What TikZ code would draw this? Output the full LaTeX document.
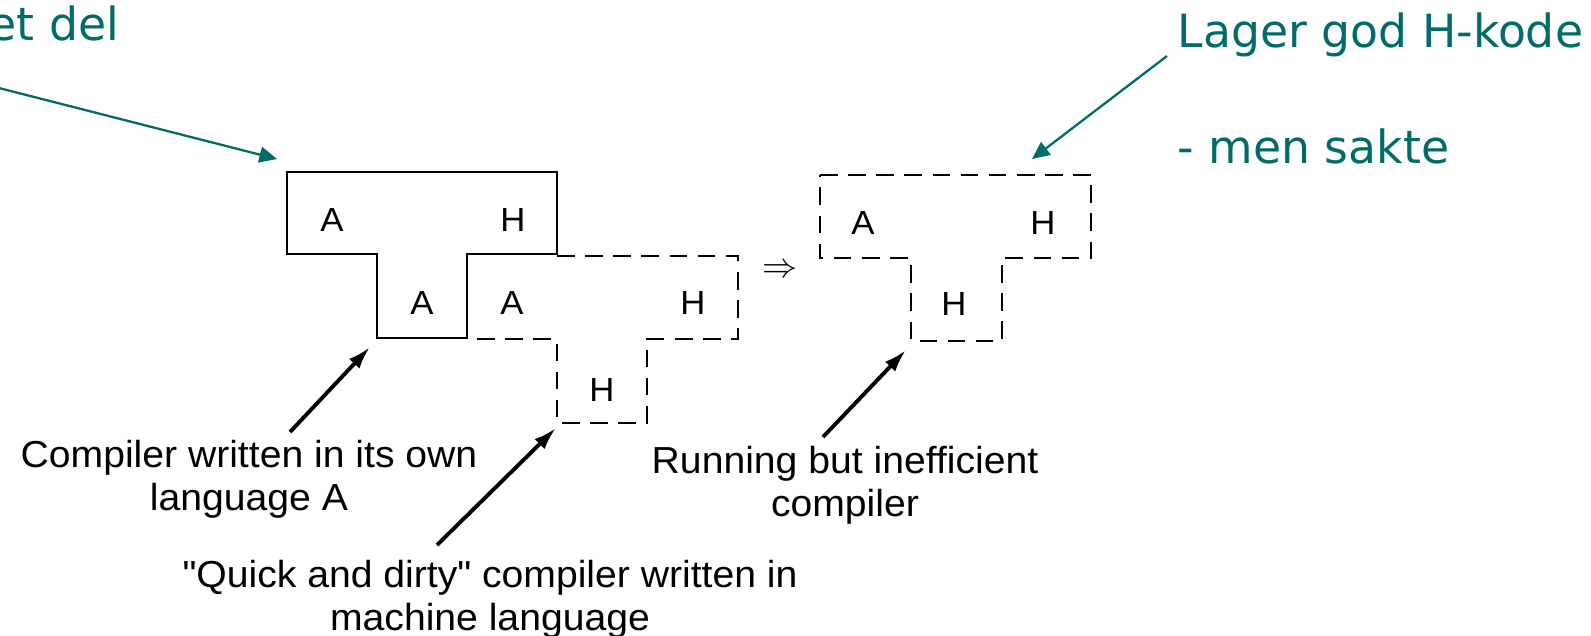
\documentclass[tikz,border=0pt]{standalone}
\usepackage{fontspec}
\newfontfamily\bokfont[FakeStretch=1.04]{Liberation Sans}
\newfontfamily\lysfont{DejaVu Sans}
\usetikzlibrary{arrows.meta}
\definecolor{lysgronn}{RGB}{0,108,104}

\begin{document}
\begin{tikzpicture}[x=0.01cm, y=-0.01cm,
    solidT/.style={line width=0.75pt},
    stiplaT/.style={line width=0.75pt, dash pattern=on 5pt off 3pt},
    bokstav/.style={font={\bokfont\fontsize{9.5}{11}\selectfont}, inner sep=0pt},
    tekst/.style={font={\bokfont\fontsize{10.7}{12.2}\selectfont}, align=center, inner sep=0pt, anchor=north},
    notat/.style={font={\lysfont\fontsize{13}{15}\selectfont}, text=lysgronn, inner sep=0pt, anchor=base west},
    svartpil/.style={-{Latex[length=6.5pt,width=4pt]}, line width=1.1pt},
    gronnpil/.style={-{Triangle[length=5pt,width=4.5pt]}, line width=0.65pt, draw=lysgronn}]
    \useasboundingbox (0,0) rectangle (1591,635);
    % T-diagram 1: kompilator skrevet i A
    \draw[solidT] (287,172) -- (557,172) -- (557,254) -- (467,254) -- (467,338)
        -- (377,338) -- (377,254) -- (287,254) -- cycle;
    \node[bokstav] (t1a) at (332,220) {A};
    \node[bokstav] (t1h) at (513,220) {H};
    \node[bokstav] (t1s) at (422,303) {A};
    % T-diagram 2: "quick and dirty" i maskinkode
    \draw[stiplaT] (557,256) -- (738,256) -- (738,339) -- (647,339) -- (647,423)
        -- (557,423) -- (557,339) -- (467,339);
    \node[bokstav] (t2a) at (512,303) {A};
    \node[bokstav] (t2h) at (693,303) {H};
    \node[bokstav] (t2s) at (602,390) {H};
    % resultat
    \node (gir) at (780,271) {$\Rightarrow$};
    % T-diagram 3: kjorende men treg kompilator
    \draw[stiplaT] (820,175) -- (1091,175) -- (1091,258) -- (1002,258) -- (1002,341)
        -- (911,341) -- (911,258) -- (820,258) -- cycle;
    \node[bokstav] (t3a) at (863,223) {A};
    \node[bokstav] (t3h) at (1043,223) {H};
    \node[bokstav] (t3s) at (954,304) {H};
    % forklaringer
    \node[tekst] (komp) at (249,440) {Compiler written in its own\\language A};
    \node[tekst] (quick) at (490,560) {"Quick and dirty" compiler written in\\machine language};
    \node[tekst] (treg) at (845,446) {Running but inefficient\\compiler};
    \coordinate (k1) at (290,432);   \coordinate (k1s) at (370,347);
    \coordinate (q1) at (437,545);   \coordinate (q1s) at (556,428);
    \coordinate (r1) at (823,437);   \coordinate (r1s) at (906,350);
    \draw[svartpil] (k1) -- (k1s);
    \draw[svartpil] (q1) -- (q1s);
    \draw[svartpil] (r1) -- (r1s);
    % kommentarer
    \node[notat] (del) at (-12,40) {et del};
    \node[notat] (god) at (1177,47) {Lager god H-kode};
    \node[notat] (sakte) at (1177,163) {- men sakte};
    \coordinate (d1) at (-5,87);     \coordinate (d1s) at (277,159);
    \coordinate (g1) at (1167,56);   \coordinate (g1s) at (1032,159);
    \draw[gronnpil] (d1) -- (d1s);
    \draw[gronnpil] (g1) -- (g1s);
\end{tikzpicture}
\end{document}
